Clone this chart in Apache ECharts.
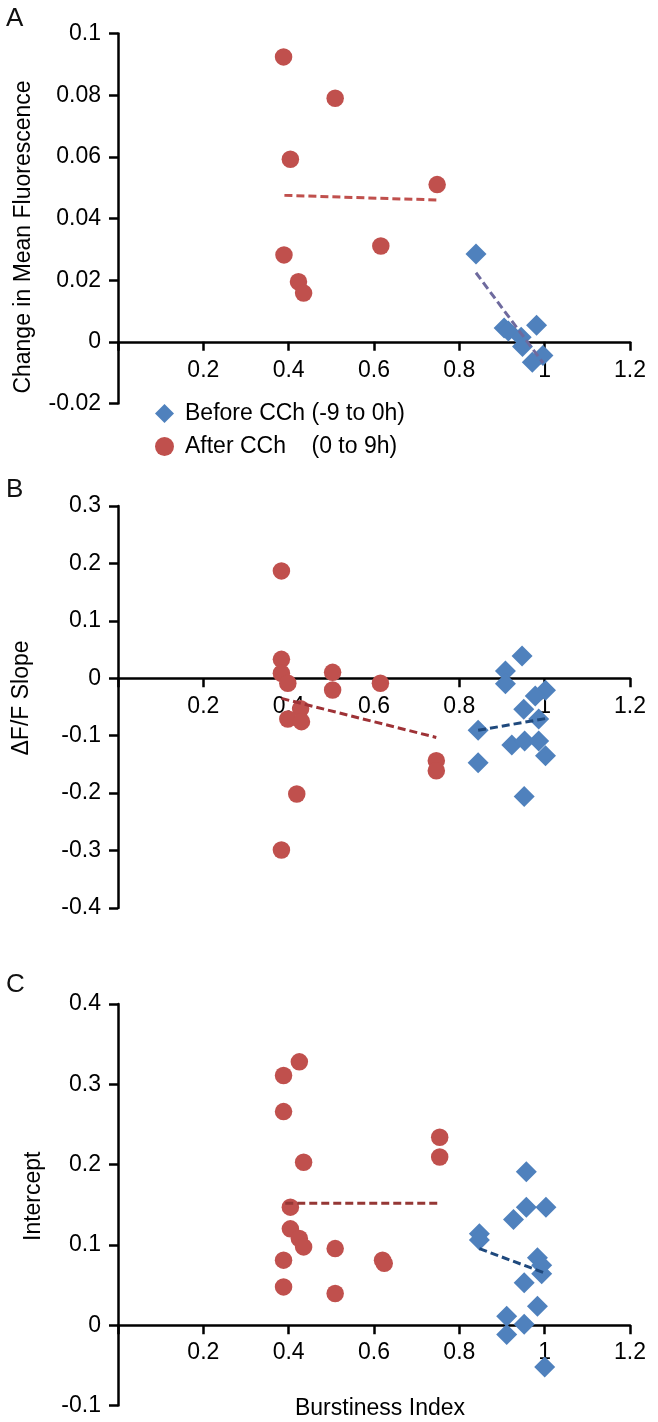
<!DOCTYPE html>
<html><head><meta charset="utf-8">
<script src="https://cdn.jsdelivr.net/npm/echarts@6/dist/echarts.min.js"></script>
<style>html,body{margin:0;padding:0;background:#fff}#c{width:658px;height:1422px}</style>
</head><body><div id="c"></div>
<script>
// ---- Data ----
const nameBefore = 'Before CCh (-9 to 0h)';
const nameAfter = 'After CCh    (0 to 9h)';
const panelLetters = ['A', 'B', 'C'];
const yAxisNames = ['Change in Mean Fluorescence', '\u0394F/F Slope', 'Intercept'];
const xAxisName = 'Burstiness Index';

// Panel A: change in mean fluorescence
const beforeA = [[0.839,0.0285],[0.905,0.0045],[0.915,0.0035],[0.981,0.0054],[0.945,0.0015],[0.948,-0.0015],[0.996,-0.0044],[0.971,-0.0066]];
const afterA = [[0.388,0.0924],[0.509,0.079],[0.404,0.0592],[0.748,0.051],[0.616,0.0311],[0.389,0.0282],[0.423,0.0195],[0.435,0.0158]];
const trendBeforeA = [[0.839,0.0224],[0.996,-0.0068]];
const trendAfterA = [[0.39,0.0475],[0.748,0.046]];

// Panel B: dF/F slope
const beforeB = [[0.947,0.039],[0.908,0.0128],[0.908,-0.0093],[1.002,-0.021],[0.978,-0.031],[0.951,-0.054],[0.986,-0.071],[0.844,-0.0906],[0.923,-0.116],[0.953,-0.109],[0.986,-0.109],[1.002,-0.135],[0.844,-0.147],[0.952,-0.206]];
const afterB = [[0.383,0.187],[0.383,0.033],[0.383,0.0087],[0.398,-0.0087],[0.428,-0.053],[0.398,-0.071],[0.43,-0.0755],[0.503,0.0104],[0.503,-0.0203],[0.615,-0.0087],[0.746,-0.1434],[0.746,-0.161],[0.419,-0.2014],[0.383,-0.299]];
const trendBeforeB = [[0.844,-0.0906],[1.005,-0.0697]];
const trendAfterB = [[0.383,-0.035],[0.746,-0.103]];

// Panel C: intercept
const beforeC = [[0.957,0.191],[0.957,0.147],[1.003,0.147],[0.927,0.1315],[0.847,0.114],[0.847,0.106],[0.983,0.084],[0.993,0.0747],[0.993,0.064],[0.952,0.053],[0.983,0.0237],[0.911,0.011],[0.952,0.0012],[0.911,-0.0116],[1.0,-0.052]];
const afterC = [[0.425,0.328],[0.388,0.311],[0.388,0.266],[0.754,0.234],[0.754,0.2095],[0.435,0.203],[0.404,0.147],[0.404,0.12],[0.425,0.108],[0.435,0.0975],[0.509,0.0954],[0.388,0.081],[0.62,0.081],[0.624,0.077],[0.388,0.0477],[0.509,0.0394]];
const trendBeforeC = [[0.847,0.0954],[1.005,0.064]];
const trendAfterC = [[0.392,0.152],[0.754,0.152]];

// Axis ranges
const xRange = {min: 0, max: 1.2, interval: 0.2};
const yRanges = [{min: -0.02, max: 0.1, interval: 0.02}, {min: -0.4, max: 0.3, interval: 0.1}, {min: -0.1, max: 0.4, interval: 0.1}];

// ---- Styles ----
const FONT = '"Liberation Sans", Arial, sans-serif';
const FS = 23;
const RED = '#C0504D', BLUE = '#4F81BD';
const trendColors = [['#6E6A9E', '#C0504D'], ['#1F497D', '#9E3236'], ['#1F497D', '#953735']];
const grids = [
  {left: 118, right: 28, top: 33.5, height: 370},
  {left: 118, right: 28, top: 506, height: 402},
  {left: 118, right: 28, top: 1004, height: 401.5}
];
const nameCfg = [
  {gap: 83, pad: [0, 37, 0, 0]},
  {gap: 85, pad: [0, 0, 0, 18]},
  {gap: 73, pad: [0, 0, 0, 17]}
];
const xLabelMargin = [17, 17, 16];
const letterY = [19, 490, 985];

const chart = echarts.init(document.getElementById('c'), null, {renderer: 'canvas'});
const lineSt = {color: '#000', width: 2.5};
const axisTick = {show: true, length: 9, inside: false, lineStyle: lineSt};

// x axis sits on the y = 0 line: shift it up from the grid bottom by the zero position
const zeroOffset = i => -grids[i].height * (0 - yRanges[i].min) / (yRanges[i].max - yRanges[i].min);

const xAxes = [0,1,2].map(i => ({
  type: 'value', gridIndex: i, min: xRange.min, max: xRange.max, interval: xRange.interval,
  position: 'bottom', offset: zeroOffset(i),
  axisLine: {onZero: false, lineStyle: lineSt}, axisTick, splitLine: {show: false},
  axisLabel: {color: '#000', fontSize: FS, fontFamily: FONT, margin: xLabelMargin[i],
    formatter: v => (Math.abs(v) < 1e-9 ? '' : String(+v.toFixed(2)))},
  name: i === 2 ? xAxisName : '', nameLocation: 'middle', nameGap: 72,
  nameTextStyle: {color: '#000', fontSize: FS, fontFamily: FONT, padding: [0, 0, 0, 12]}
}));
const yAxes = [0,1,2].map(i => ({
  type: 'value', gridIndex: i, min: yRanges[i].min, max: yRanges[i].max, interval: yRanges[i].interval,
  axisLine: {onZero: false, lineStyle: lineSt}, axisTick, splitLine: {show: false},
  axisLabel: {color: '#000', fontSize: FS, fontFamily: FONT, margin: 17,
    formatter: v => String(+v.toFixed(3))},
  name: yAxisNames[i], nameLocation: 'middle', nameGap: nameCfg[i].gap, nameRotate: 90,
  nameTextStyle: {color: '#000', fontSize: FS, fontFamily: FONT, padding: nameCfg[i].pad}
}));

const panels = [
  [beforeA, afterA, trendBeforeA, trendAfterA],
  [beforeB, afterB, trendBeforeB, trendAfterB],
  [beforeC, afterC, trendBeforeC, trendAfterC]
];
const series = [];
panels.forEach((p, i) => {
  series.push({name: nameBefore, type: 'scatter', xAxisIndex: i, yAxisIndex: i, data: p[0],
    symbol: 'diamond', symbolSize: 21, itemStyle: {color: BLUE, opacity: 1}, z: 2});
  series.push({name: nameAfter, type: 'scatter', xAxisIndex: i, yAxisIndex: i, data: p[1],
    symbol: 'circle', symbolSize: 17.5, itemStyle: {color: RED, opacity: 1}, z: 2});
  series.push({name: 'trend-before-' + i, type: 'line', xAxisIndex: i, yAxisIndex: i, data: p[2],
    symbol: 'none', lineStyle: {color: trendColors[i][0], width: 3, type: [8, 4]}, z: 3});
  series.push({name: 'trend-after-' + i, type: 'line', xAxisIndex: i, yAxisIndex: i, data: p[3],
    symbol: 'none', lineStyle: {color: trendColors[i][1], width: 3, type: [8, 4]}, z: 3});
});

chart.setOption({
  animation: false,
  backgroundColor: '#fff',
  grid: grids,
  xAxis: xAxes,
  yAxis: yAxes,
  legend: {
    orient: 'vertical', left: 150, top: 397, itemWidth: 19, itemHeight: 19, itemGap: 10,
    data: [{name: nameBefore, icon: 'diamond'}, {name: nameAfter, icon: 'circle'}],
    textStyle: {color: '#000', fontSize: FS, fontFamily: FONT, lineHeight: 19, padding: [0, 0, 0, 6]},
    selectedMode: false
  },
  graphic: panelLetters.map((t, i) => ({
    type: 'text', left: 6, top: letterY[i] - 13,
    style: {text: t, fontSize: 26, fontFamily: FONT, fill: '#111'}
  })),
  series
});
</script></body></html>
